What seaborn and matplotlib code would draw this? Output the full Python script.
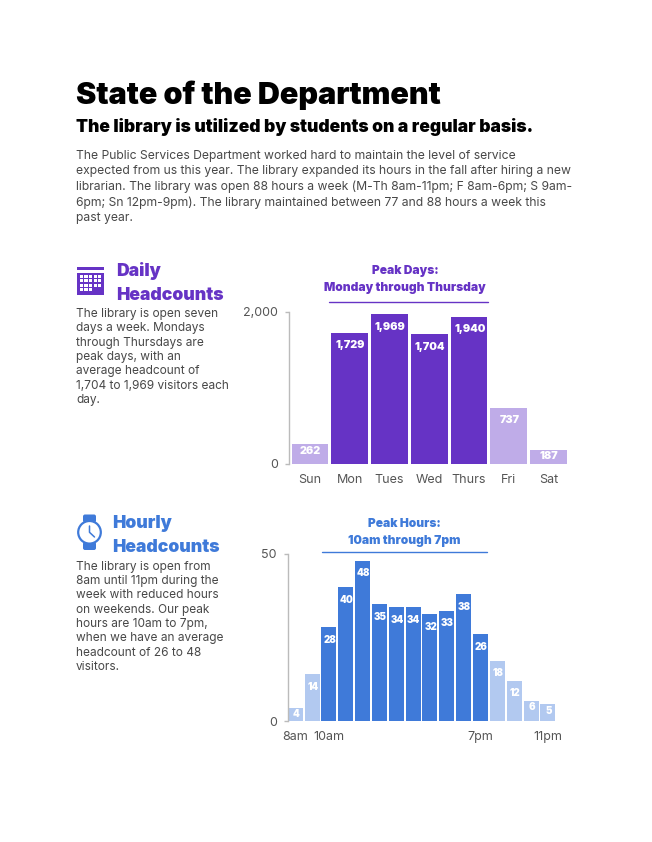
import matplotlib
matplotlib.use("Agg")
import matplotlib.pyplot as plt
from matplotlib.patches import Rectangle, Circle, FancyBboxPatch
import pandas as pd
import seaborn as sns

days = ["Sun", "Mon", "Tues", "Wed", "Thurs", "Fri", "Sat"]
day_counts = [262, 1729, 1969, 1704, 1940, 737, 187]
day_peak = [False, True, True, True, True, False, False]

hours = list(range(8, 24))
hour_counts = [4, 14, 28, 40, 48, 35, 34, 34, 32, 33, 38, 26, 18, 12, 6, 5]
hour_peak = [False, False] + [True] * 10 + [False] * 4
hour_tick_pos = [0, 2, 11, 15]
hour_tick_labels = ["8am", "10am", "7pm", "11pm"]

title = "State of the Department"
subtitle = "The library is utilized by students on a regular basis."
intro = [
    "The Public Services Department worked hard to maintain the level of service",
    "expected from us this year. The library expanded its hours in the fall after hiring a new",
    "librarian. The library was open 88 hours a week (M-Th 8am-11pm; F 8am-6pm; S 9am-",
    "6pm; Sn 12pm-9pm). The library maintained between 77 and 88 hours a week this",
    "past year.",
]
daily_head = ["Daily", "Headcounts"]
daily_body = ["The library is open seven", "days a week. Mondays", "through Thursdays are",
              "peak days, with an", "average headcount of", "1,704 to 1,969 visitors each", "day."]
hourly_head = ["Hourly", "Headcounts"]
hourly_body = ["The library is open from", "8am until 11pm during the", "week with reduced hours",
               "on weekends. Our peak", "hours are 10am to 7pm,", "when we have an average",
               "headcount of 26 to 48", "visitors."]
peak_days = ["Peak Days:", "Monday through Thursday"]
peak_hours = ["Peak Hours:", "10am through 7pm"]

PURPLE, PURPLE_L = "#6633C5", "#BFACE8"
BLUE, BLUE_L = "#3F7AD9", "#B2C9F0"
INK = "#484848"
TICK = "#555555"
W, H = 652, 842
FONT = "Inter"

sns.set_theme(style="white")
plt.rcParams["font.family"] = [FONT, "DejaVu Sans"]
fig = plt.figure(figsize=(W / 100, H / 100), dpi=100, facecolor="white")


def axes_px(l, t, r, b):
    return fig.add_axes([l / W, 1 - b / H, (r - l) / W, (b - t) / H])


ov = fig.add_axes([0, 0, 1, 1])
ov.set_xlim(0, W)
ov.set_ylim(H, 0)
ov.axis("off")


def txt(x, y, s, size, color=INK, weight="normal", ha="left", family=FONT):
    ov.text(x, y, s, fontsize=size, color=color, fontweight=weight, ha=ha, va="center", family=family)


def bars(rect, x, y, peak, dark, light, ymax, width, xlim, ticks, ticklabels, yticks, ylabels, size, lab):
    ax = axes_px(*rect)
    df = pd.DataFrame({"x": x, "y": y, "p": peak})
    sns.barplot(data=df, x="x", y="y", hue="p", dodge=False, palette={True: dark, False: light},
                width=width, legend=False, ax=ax, saturation=1, order=x, linewidth=0, edgecolor="none")
    ax.set_xlim(*xlim)
    ax.set_ylim(0, ymax)
    ax.patch.set_alpha(0)
    ax.set_xlabel("")
    ax.set_ylabel("")
    for s in ("top", "right", "bottom"):
        ax.spines[s].set_visible(False)
    ax.spines["left"].set_color("#bbbbbb")
    ax.spines["left"].set_linewidth(1)
    ax.set_xticks(ticks)
    ax.set_xticklabels(ticklabels, fontsize=size, color=TICK)
    ax.set_yticks(yticks)
    ax.set_yticklabels(ylabels, fontsize=size, color=TICK)
    ax.tick_params(axis="x", length=0, pad=7.5)
    ax.tick_params(axis="y", left=True, length=3, width=1, color="#bbbbbb", pad=5)
    px = (rect[3] - rect[1]) / ymax
    for i, v in enumerate(y):
        off = 6.5 if v * px < 25 else 12.5
        ax.annotate(f"{v:,}", (i, v), xytext=(0.5, -off * 0.72), textcoords="offset points",
                    ha="center", va="center", color="white", fontsize=lab, fontweight="black")
    return ax


bars((289, 312, 570, 464), days, day_counts, day_peak, PURPLE, PURPLE_L, 2000, 0.92,
     (-0.528, 6.54), list(range(7)), days, [0, 2000], ["0", "2,000"], 9, 7.8)
bars((288, 554, 560, 721), hours, hour_counts, hour_peak, BLUE, BLUE_L, 50, 0.89,
     (-0.43, 15.72), hour_tick_pos, hour_tick_labels, [0, 50], ["0", "50"], 9, 7)

txt(76, 95, title, 22, "black", "black")
txt(76, 127, subtitle, 12.6, "black", "black")
for i, s in enumerate(intro):
    txt(76, 155.8 + 15.6 * i, s, 8.75)
for i, s in enumerate(daily_head):
    txt(116, 271 + 24 * i, s, 12.7, PURPLE, "black")
for i, s in enumerate(hourly_head):
    txt(112, 524 + 24 * i, s, 12.7, BLUE, "black")
for i, s in enumerate(daily_body):
    txt(76, 313.8 + 14.4 * i, s, 8.55)
for i, s in enumerate(hourly_body):
    txt(76, 566.8 + 14.3 * i, s, 8.55)
for i, s in enumerate(peak_days):
    txt(405, 271 + 17 * i, s, 8.6, PURPLE, "black", "center")
for i, s in enumerate(peak_hours):
    txt(404, 524 + 17 * i, s, 8.6, BLUE, "black", "center")
ov.plot([329, 488], [302.3, 302.3], color=PURPLE, lw=1)
ov.plot([322, 487], [552.3, 552.3], color=BLUE, lw=1)

# calendar icon
ov.add_patch(Rectangle((77, 266.5), 27, 3, color=PURPLE, lw=0))
ov.add_patch(Rectangle((77, 272.5), 27, 22, color=PURPLE, lw=0))
for r in range(4):
    for c in range(5):
        if r == 3 and c > 2:
            continue
        ov.add_patch(Rectangle((79.8 + c * 4.6, 274.8 + r * 4.5), 3.2, 3.2, color="white", lw=0))

# watch icon
ov.add_patch(FancyBboxPatch((83, 514.5), 13, 8, boxstyle="round,pad=0,rounding_size=2", color=BLUE, lw=0))
ov.add_patch(FancyBboxPatch((83, 542), 13, 8, boxstyle="round,pad=0,rounding_size=2", color=BLUE, lw=0))
ov.add_patch(Circle((89.5, 532.3), 11.3, facecolor="white", edgecolor=BLUE, lw=1.6))
ov.plot([89.5, 89.5, 94.5], [526, 532.3, 537], color=BLUE, lw=1.1)

fig.savefig("out.png", dpi=100)
